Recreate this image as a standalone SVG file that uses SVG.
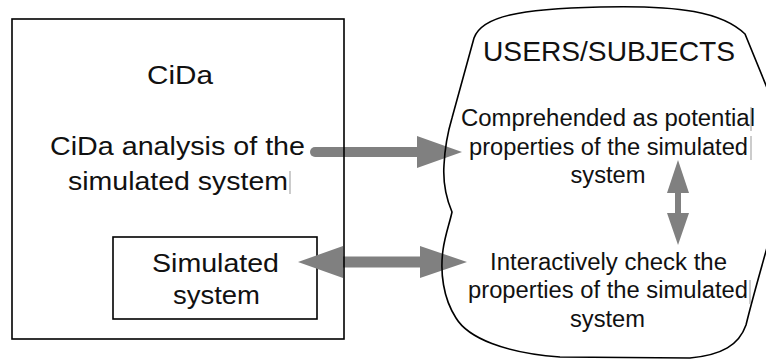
<svg xmlns="http://www.w3.org/2000/svg" width="766" height="360" viewBox="0 0 766 360">
<style>
.box{fill:none;stroke:#000;stroke-width:1.6}
.t{font-family:"Liberation Sans",Arial,sans-serif;fill:#111;text-anchor:middle}
.big{font-size:26.5px}
.title{font-size:28px}
.sm{font-size:23.5px}
.arr{fill:#808080}
.shaft{stroke:#808080;fill:none}
.cur{stroke:#999;stroke-width:1}
</style>
<rect x="0" y="0" width="766" height="360" fill="#fff"/>
<g id="simulated-system">
<rect x="113" y="237" width="204" height="82" fill="#fff" stroke="#000" stroke-width="1.6"/>
<text class="t big" x="215.5" y="272" textLength="127" lengthAdjust="spacingAndGlyphs">Simulated</text>
<text class="t big" x="216.5" y="304" textLength="87" lengthAdjust="spacingAndGlyphs">system</text>
</g>
<g id="connectors">
<line class="shaft" x1="315" y1="152" x2="420" y2="152" stroke-width="10" stroke-linecap="round"/>
<polygon class="arr" points="417,136 462,152 417,168"/>
<line class="shaft" x1="340" y1="262" x2="423" y2="262" stroke-width="11"/>
<polygon class="arr" points="343,246 298,262 343,278"/>
<polygon class="arr" points="420,246 467,262 420,278"/>
<line class="shaft" x1="678" y1="190" x2="678" y2="216" stroke-width="6"/>
<polygon class="arr" points="667,193 678,160 689,193"/>
<polygon class="arr" points="667,213 678,245 689,213"/>
</g>
<g id="cida">
<rect class="box" x="12" y="19" width="332" height="320"/>
<text class="t big" x="180" y="84" textLength="66" lengthAdjust="spacingAndGlyphs">CiDa</text>
<text class="t big" x="177.5" y="155" textLength="255" lengthAdjust="spacingAndGlyphs">CiDa analysis of the</text>
<text class="t big" x="178" y="190" textLength="220" lengthAdjust="spacingAndGlyphs">simulated system</text>
<line class="cur" x1="290" y1="171" x2="290" y2="194"/>
</g>
<g id="users-subjects">
<path class="box" d="M474,38 C482,16 520,9 600,7 C680,5 722,12 745,34 L772,100 L772,230 C762,265 752,300 746,325 C739,345 722,355 690,358 L560,357 C505,353 468,338 456,318 C443,298 440,272 443,250 C445,235 450,222 452,212 C446,198 443,180 444,165 C445,145 449,128 452,118 Z"/>
<text class="t title" x="609" y="61" textLength="252" lengthAdjust="spacingAndGlyphs">USERS/SUBJECTS</text>
</g>
<g id="comprehended">
<text class="t sm" x="608" y="126" textLength="294" lengthAdjust="spacingAndGlyphs">Comprehended as potential</text>
<text class="t sm" x="608.5" y="154.5" textLength="279" lengthAdjust="spacingAndGlyphs">properties of the simulated</text>
<text class="t sm" x="608" y="183" textLength="75" lengthAdjust="spacingAndGlyphs">system</text>
<line class="cur" x1="751" y1="107" x2="751" y2="131"/>
<line class="cur" x1="751" y1="136" x2="751" y2="160"/>
</g>
<g id="interactively-check">
<text class="t sm" x="608.5" y="270" textLength="237" lengthAdjust="spacingAndGlyphs">Interactively check the</text>
<text class="t sm" x="608" y="298" textLength="280" lengthAdjust="spacingAndGlyphs">properties of the simulated</text>
<text class="t sm" x="607.5" y="327" textLength="75" lengthAdjust="spacingAndGlyphs">system</text>
<line class="cur" x1="750" y1="280" x2="750" y2="304"/>
</g>
</svg>
